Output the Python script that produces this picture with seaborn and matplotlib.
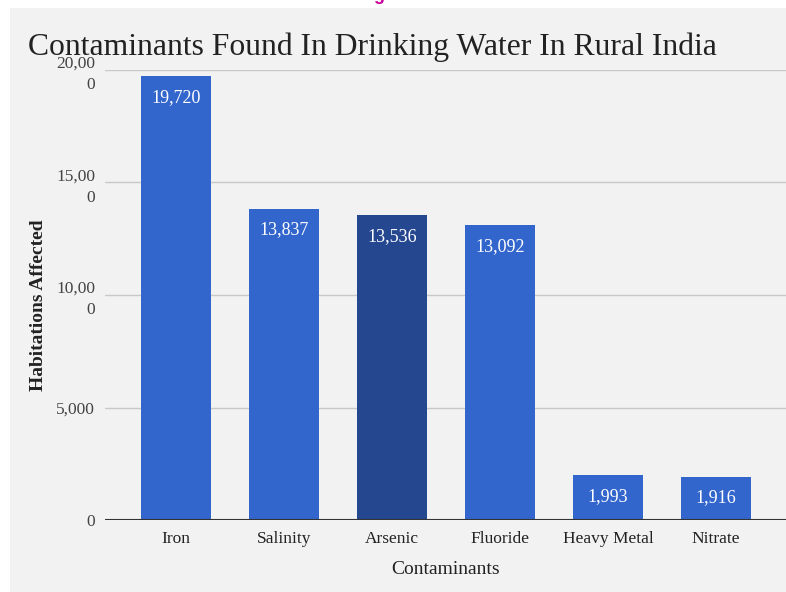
import matplotlib
matplotlib.use("Agg")
import matplotlib.pyplot as plt
import seaborn as sns
import pandas as pd
from matplotlib.patches import Rectangle

categories = ["Iron", "Salinity", "Arsenic", "Fluoride", "Heavy Metal", "Nitrate"]
values = [19720, 13837, 13536, 13092, 1993, 1916]
bar_labels = ["19,720", "13,837", "13,536", "13,092", "1,993", "1,916"]
ytick_vals = [0, 5000, 10000, 15000, 20000]
ytick_labels = ["0", "5,000", "10,00\n0", "15,00\n0", "20,00\n0"]

sns.set_theme(style="white")
plt.rcParams['font.family'] = ['Liberation Serif', 'DejaVu Serif']

W, H = 786, 592
fig = plt.figure(figsize=(W/100, H/100), dpi=100)
fig.patch.set_facecolor("white")
# gray panel
fig.patches.append(Rectangle((10/W, 0), 1 - 10/W, 1 - 8/H, transform=fig.transFigure,
                             facecolor="#f2f2f2", edgecolor="none", zorder=-5))
fig.text(0.5, 1 + 4/H, "Figure 1", color="#cc0099", ha="center", va="center",
         fontsize=13, fontweight="bold", family=["Liberation Sans", "DejaVu Sans"])

left, right, bottom, top = 105/W, 1.0, 1 - 520/H, 1 - 70/H
ax = fig.add_axes([left, bottom, right - left, top - bottom])
ax.set_facecolor("none")

df = pd.DataFrame({"cat": categories, "val": values})
palette = ["#3366cc", "#3366cc", "#24478f", "#3366cc", "#3366cc", "#3366cc"]
sns.barplot(data=df, x="cat", y="val", hue="cat", palette=palette, legend=False,
            width=0.65, ax=ax, saturation=1, zorder=3, linewidth=0)

ax.set_ylim(0, 20000)
ax.set_xlim(-0.66, 5.65)
ax.set_yticks(ytick_vals)
ax.set_yticklabels(ytick_labels, fontsize=12.5, color="#444444", linespacing=1.45)
ax.tick_params(axis="y", length=0, pad=7)
ax.tick_params(axis="x", length=0, pad=8, labelsize=12.5, labelcolor="#222222")
ax.yaxis.grid(True, color="#c8c8c8", linewidth=1, zorder=0)
ax.set_axisbelow(True)
for s in ax.spines.values():
    s.set_visible(False)
ax.axhline(0, color="#333333", linewidth=1.5, zorder=4)

for p, lab in zip(ax.patches, bar_labels):
    x = p.get_x() + p.get_width() / 2
    ax.annotate(lab, (x, p.get_height()), xytext=(0, -9), textcoords="offset points",
                ha="center", va="top", color="white", fontsize=13, zorder=5)

ax.set_xlabel("Contaminants", fontsize=14, color="#222222", labelpad=10)
ax.set_ylabel("Habitations Affected", fontsize=14, fontweight="bold", color="#222222")
ax.yaxis.set_label_coords(-(105 - 47)/(W*(right-left)), 0.478)

fig.text(28/W, 1 - 47/H, "Contaminants Found In Drinking Water In Rural India",
         fontsize=22.8, color="#222222", ha="left", va="center")

fig.savefig("out.png", dpi=100)
